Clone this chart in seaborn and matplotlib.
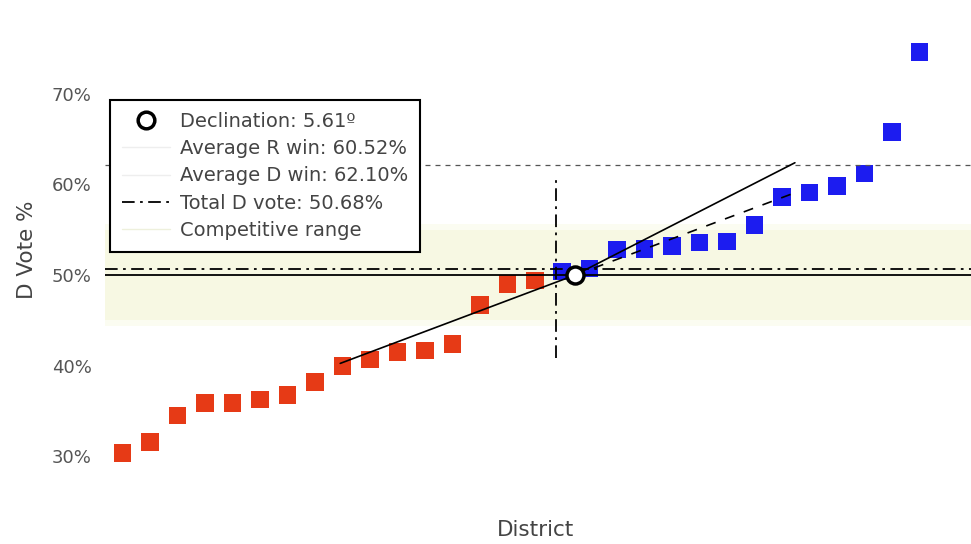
import matplotlib
matplotlib.use("Agg")
import matplotlib.pyplot as plt
from matplotlib.lines import Line2D
import seaborn as sns
import pandas as pd

# ---- data ----
district = list(range(1, 31))
d_vote = [30.4, 31.6, 34.5, 35.9, 35.9, 36.3, 36.8, 38.2, 40.0, 40.7,
          41.5, 41.7, 42.4, 46.7, 49.0, 49.4,
          50.4, 50.7, 52.8, 52.9, 53.2, 53.6, 53.7, 55.5, 58.6, 59.1,
          59.8, 61.2, 65.8, 74.6]
winner = ["R"] * 16 + ["D"] * 14

decl_point = (17.47, 50.0)          # declination pivot
r_line_start = (8.92, 40.26)        # left (R) segment start
d_line_end = (25.47, 62.38)         # right (D) segment end
r_ext_end = (25.54, 59.15)          # extension of R segment (dashed)
seat_split_x = 16.77
seat_split_y = (40.8, 60.7)

avg_d_win = 62.10
total_d_vote = 50.68
even_line = 50.0
competitive = (45.0, 55.0)

y_ticks = [30, 40, 50, 60, 70]
y_tick_labels = ["30%", "40%", "50%", "60%", "70%"]

legend_labels = ["Declination: 5.61º", "Average R win: 60.52%",
                 "Average D win: 62.10%", "Total D vote: 50.68%",
                 "Competitive range"]

party_colors = {"R": "#e63a16", "D": "#1c1cf0"}

# ---- figure ----
sns.set_theme(style="white")
plt.rcParams["font.family"] = ["DejaVu Sans"]

W, H = 971, 544
fig = plt.figure(figsize=(W / 100, H / 100), dpi=100)
ax = fig.add_axes([105 / W, 54 / H, 866 / W, 480 / H])

ax.axhspan(competitive[0] - 0.6, competitive[1] + 0.6, color="#fbfcf1", lw=0, zorder=0)
ax.axhspan(*competitive, color="#f7f8e3", lw=0, zorder=0)

df = pd.DataFrame({"District": district, "D Vote": d_vote, "Winner": winner})
sns.scatterplot(data=df, x="District", y="D Vote", hue="Winner",
                palette=party_colors, marker="s", s=160, linewidth=0,
                legend=False, ax=ax, zorder=2)

ax.axhline(even_line, color="black", lw=1.3, zorder=3)
ax.axhline(total_d_vote, color="black", lw=1.3, ls=(0, (7, 3, 1.5, 3)), zorder=3)
ax.axhline(avg_d_win, color="#555555", lw=0.9, ls=(0, (4, 4)), zorder=3)

ax.plot([seat_split_x, seat_split_x], seat_split_y, color="black", lw=1.3,
        ls=(0, (7, 3, 1.5, 3)), zorder=3)
ax.plot([r_line_start[0], decl_point[0]], [r_line_start[1], decl_point[1]],
        color="black", lw=1.2, zorder=3)
ax.plot([decl_point[0], d_line_end[0]], [decl_point[1], d_line_end[1]],
        color="black", lw=1.2, zorder=3)
ax.plot([decl_point[0], r_ext_end[0]], [decl_point[1], r_ext_end[1]],
        color="black", lw=1.2, ls=(0, (6, 6)), zorder=3)
ax.scatter([decl_point[0]], [decl_point[1]], s=150, facecolor="white",
           edgecolor="black", linewidth=2.5, zorder=5)

ax.set_xlim(0.356, 31.88)
ax.set_ylim(26.3, 79.22)
ax.set_xticks([])
ax.set_yticks(y_ticks)
ax.set_yticklabels(y_tick_labels)
ax.tick_params(axis="y", length=0, pad=9.5, labelsize=13, labelcolor="#555555")
for s in ax.spines.values():
    s.set_visible(False)

ax.set_xlabel("District", fontsize=15.5, color="#444444")
ax.set_ylabel("D Vote %", fontsize=15.5, color="#444444")
ax.xaxis.set_label_coords((535 - 105) / 866, -(520 - 490) / 480)
ax.yaxis.set_label_coords((37 - 105) / 866, 0.5)

handles = [
    Line2D([], [], marker="o", ls="none", mfc="white", mec="black", mew=2.5, ms=12),
    Line2D([], [], color="#eeeeee", lw=1),
    Line2D([], [], color="#eeeeee", lw=1),
    Line2D([], [], color="black", lw=1.3, ls=(0, (7, 3, 1.5, 3))),
    Line2D([], [], color="#eef0dc", lw=1),
]
leg = ax.legend(handles, legend_labels, loc="upper left",
                bbox_to_anchor=(110 / W, 1 - 100 / H), bbox_transform=fig.transFigure,
                borderaxespad=0, fontsize=14, frameon=True, fancybox=False,
                framealpha=1, edgecolor="black", handlelength=2.47,
                handletextpad=0.51, borderpad=0.6, labelspacing=0.43)
leg.get_frame().set_linewidth(1.5)
for t in leg.get_texts():
    t.set_color("#444444")
leg.set_zorder(10)

fig.savefig("out.png", dpi=100)
